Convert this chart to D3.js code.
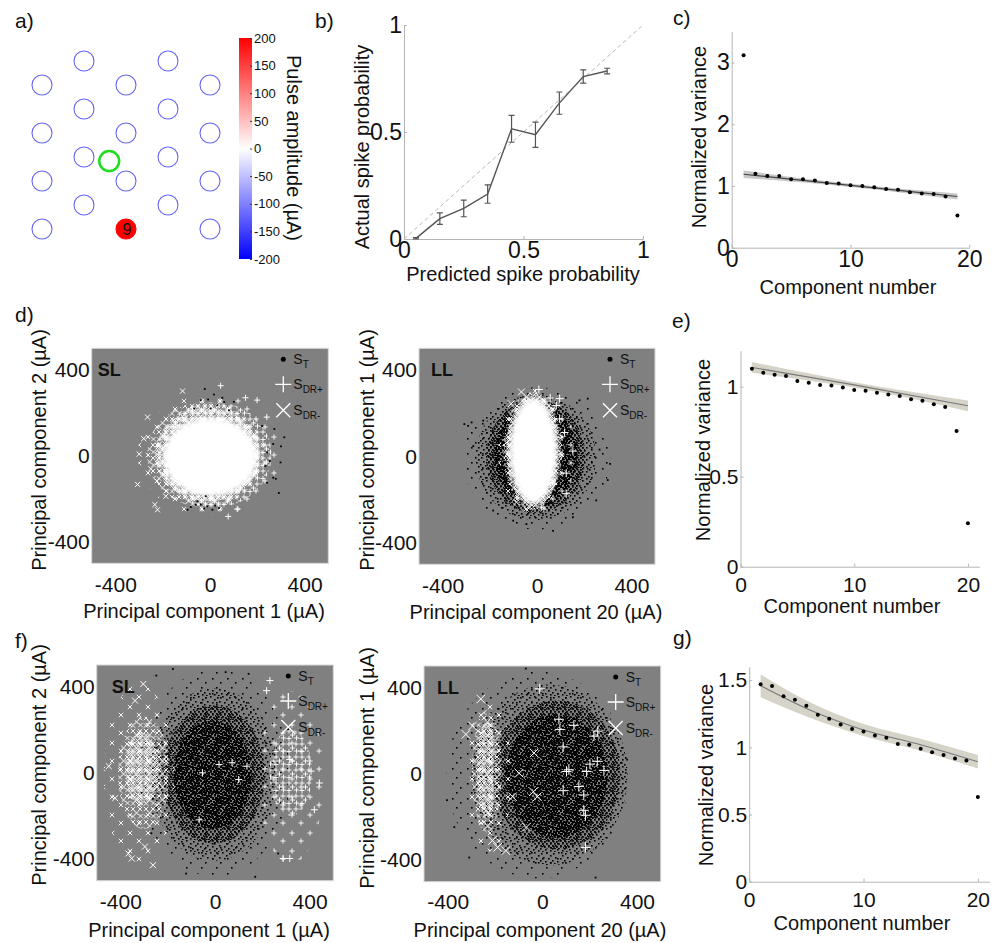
<!DOCTYPE html>
<meta charset="utf-8">
<style>
  body { margin: 0; background: #fff; }
  svg { font-family: Arial, "Liberation Sans", sans-serif; }
</style>
<body>
<script src="https://cdn.jsdelivr.net/npm/d3@7/dist/d3.min.js"></script>
<script>

// ---------- a) electrode array ----------
var electrodeCols = [1,3,0,2,4,1,3,0,2,4,1,3,0,2,4,1,3,0,2,4];
var electrodeRows = [0,0,1,1,1,2,2,3,3,3,4,4,5,5,5,6,6,7,7,7];
var stimIndex = 18, stimLabel = "9", stimAmp = 200;
var targetPos = [1.6, 4.17];
var cbTicks = [200,150,100,50,0,-50,-100,-150,-200];

// ---------- b) predicted vs actual ----------
var predX   = [0.05,0.15,0.25,0.35,0.45,0.55,0.65,0.75,0.85];
var actualY = [0.003,0.095,0.143,0.21,0.515,0.487,0.635,0.759,0.785];
var actualE = [0.003,0.027,0.039,0.043,0.063,0.059,0.052,0.031,0.013];

// ---------- c, e, g) normalized variance ----------
var compC = [1,2,3,4,5,6,7,8,9,10,11,12,13,14,15,16,17,18,19];
var varC  = [3.12,1.20,1.16,1.16,1.11,1.11,1.09,1.05,1.04,1.01,1.00,0.98,0.95,0.94,0.90,0.88,0.87,0.83,0.52];
var bandCx = [1,10,19], bandCm = [1.19,1.01,0.83], bandCh = [0.06,0.025,0.05];

var compE = [1,2,3,4,5,6,7,8,9,10,11,12,13,14,15,16,17,18,19,20];
var varE  = [1.10,1.078,1.067,1.059,1.031,1.022,1.009,1.007,0.996,0.981,0.978,0.967,0.957,0.948,0.93,0.922,0.902,0.887,0.754,0.241];
var bandEx = [1,10,20], bandEm = [1.107,1.01,0.894], bandEh = [0.03,0.015,0.03];

var compG = [1,2,3,4,5,6,7,8,9,10,11,12,13,14,15,16,17,18,19,20];
var varG  = [1.471,1.457,1.38,1.355,1.31,1.243,1.213,1.171,1.136,1.119,1.089,1.072,1.025,1.02,0.99,0.963,0.943,0.918,0.903,0.63];
var bandGx = [1,5,10,15,20], bandGm = [1.459,1.29,1.13,1.02,0.893], bandGh = [0.085,0.06,0.045,0.045,0.05];

// ---------- d, f) PCA scatter clouds: [cx, cy, rx, ry] in uA + relative density (white 4 = solid) ----------
var dSLBlack = [];
var dSLCrossBlobs = [[-35,5,270,275,1],[-20,5,245,245,2],[-10,5,222,218,3],[2,-5,198,182,4]];
var dSLPlusBlobs  = [[35,5,265,280,1],[20,5,240,245,2]];
var dSLDots = [[-22,311],[17,285],[52,270],[-39,259],[-67,220],[3,220],[31,235],[220,138],[272,125],[314,86],
  [300,44],[267,55],[241,16],[253,-24],[298,-31],[234,-47],[267,-102],[278,-107],[291,-173],[241,-125],
  [-53,-212],[-39,-227],[-11,-235],[10,-251],[-81,-238],[38,-243],[-18,-188],[-95,-251],[101,251],[80,212],
  [-60,-228],[-25,-245],[22,-232],[-8,262],[60,250]];
var dSLPlus  = [[199,259],[45,326],[196,-71],[77,-282],[115,-248],[150,270],[240,180]];
var dSLCross = [[-299,8],[-264,180],[-306,-133],[-222,-251],[-233,-227],[-116,301],[-187,-188],[-280,80],[-250,-60]];

var dLLBlack = [[0,-10,310,330,1],[-5,-5,255,290,2],[-5,0,210,262,3],[-5,5,175,240,4]];
var dLLCrossBlobs = [[-25,25,140,290,1],[-18,25,125,272,2],[-15,25,115,260,3],[-15,25,102,245,4]];
var dLLPlusBlobs  = [[40,10,120,272,1]];
var dLLDots = [[-308,149],[-292,141],[-228,165],[-270,47],[180,259],[215,267],[310,-35],[300,-110],
  [251,-204],[68,-345],[152,-282],[-186,-251],[-101,-298],[-45,-314],[-277,157],[265,31]];
var dLLPlus  = [[8,309],[56,270],[96,267],[82,235],[117,110],[152,24],[124,-78],[124,-173],[18,-235],[68,-125],[96,173]];
var dLLCross = [[-66,298],[-109,243],[-87,-212],[-31,-235],[-123,16],[-130,63]];

var fSLBlack = [[0,0,320,480,1],[-5,-8,270,400,2],[-5,-8,215,320,3],[-10,-10,165,250,4]];
var fSLCrossBlobs = [[-320,-10,150,420,1],[-300,0,110,260,2],[-310,20,70,170,3]];
var fSLPlusBlobs  = [[320,-20,140,400,1],[320,0,90,200,2]];
var fSLDots = [[-248,451],[-178,482],[45,467],[142,459],[170,-482],[-122,-467],[267,-374],[309,202],[-269,-280]];
var fSLPlus  = [[232,428],[218,381],[316,62],[441,-47],[420,-171],[316,-397],[288,-397],[406,8],[17,39],[72,47],
  [-53,0],[100,-31],[135,31],[-67,-218]];
var fSLCross = [[-303,412],[-338,335],[-366,-374],[-352,-397],[-262,-428],[-422,-117],[-449,31],[-296,-342]];

var fLLBlack = [[-20,-5,385,480,1],[30,-5,330,420,2],[60,-5,270,345,3],[60,-10,215,285,4]];
var fLLCrossBlobs = [[-225,0,95,360,1],[-235,10,62,285,2],[-235,20,42,220,3]];
var fLLPlusBlobs  = [];
var fLLDots = [[-403,-122],[-372,-247],[-309,-388],[-70,488],[358,66],[225,-481]];
var fLLPlus  = [[70,253],[74,206],[133,225],[88,125],[112,19],[102,11],[187,11],[260,16],[232,58],[88,-78],
  [154,-59],[175,-98],[175,-169],[182,-192],[182,-341],[218,175],[234,198],[-11,394],[201,45]];
var fLLCross = [[-35,97],[-38,-83],[-21,-106],[-67,-247],[-126,-106],[-98,3],[-323,183],[-295,222],
  [-211,-309],[-189,-341],[-154,-356],[-260,347]];

var svg = d3.select("body").append("svg").attr("width", 1003).attr("height", 943);
var defs = svg.append("defs");
var fmt = function(d){ return String(d); };

// textures for the dense point clouds
var bkTiles = {
  1: {size: 15, r: 1.6, pts: [[2,3],[10,7],[6,12]]},
  2: {size: 12, r: 1.6, pts: [[1,1],[6,0],[10,3],[3,5],[8,6],[0,8],[5,9],[10,10],[2,11]]},
  3: {size: 12, r: 1.8, pts: [[0,0],[4,1],[8,0],[2,3],[6,3],[10,2],[0,5],[4,6],[8,5],[11,7],[2,8],[6,8],[9,9],[0,10],[4,11],[7,11],[11,11],[1,6]]},
  4: {size: 10, r: 2, pts: [[0,0],[3,1],[6,0],[8,2],[1,3],[4,4],[7,5],[0,6],[2,7],[5,7],[8,8],[3,9],[6,9],[9,5],[5,2]]}
};
Object.keys(bkTiles).forEach(function(k){
  var t = bkTiles[k];
  defs.append("pattern").attr("id", "bk" + k).attr("patternUnits", "userSpaceOnUse")
    .attr("width", t.size).attr("height", t.size)
    .selectAll("rect").data(t.pts).join("rect")
    .attr("x", function(p){ return p[0]; }).attr("y", function(p){ return p[1]; })
    .attr("width", t.r).attr("height", t.r).attr("fill", "#000");
});
var wTiles = {
  1: {size: 18, pts: [[4,5],[13,13]]},
  2: {size: 13, pts: [[3,3],[10,3],[6.5,7],[3,10.5],[10.5,10]]},
  3: {size: 9, pts: [[2.5,2.5],[6.5,3],[4.5,6.5],[2,6.5],[7,6.5]]}
};
var plusPath = function(s){ return "M" + (-s) + ",0H" + s + "M0," + (-s) + "V" + s; };
var crossPath = function(s){ return "M" + (-s) + "," + (-s) + "L" + s + "," + s + "M" + (-s) + "," + s + "L" + s + "," + (-s); };
Object.keys(wTiles).forEach(function(k){
  var t = wTiles[k];
  [["wx", crossPath(2.2)], ["wp", plusPath(2.6)]].forEach(function(m){
    defs.append("pattern").attr("id", m[0] + k).attr("patternUnits", "userSpaceOnUse")
      .attr("width", t.size).attr("height", t.size)
      .selectAll("path").data(t.pts).join("path")
      .attr("transform", function(p){ return "translate(" + p[0] + "," + p[1] + ")"; })
      .attr("d", m[1]).attr("stroke", "#fff").attr("stroke-width", 0.9).attr("fill", "none");
  });
});
defs.append("filter").attr("id", "soft").attr("x", "-20%").attr("y", "-20%").attr("width", "140%").attr("height", "140%")
  .append("feGaussianBlur").attr("stdDeviation", 2.5);

// ---------- panel a ----------
var colX = d3.scaleLinear().domain([0,4]).range([42,210]);
var rowY = d3.scaleLinear().domain([0,7]).range([61,229]);
var ampColor = d3.scaleLinear().domain([-200,0,200]).range(["#0000ff","#ffffff","#ff0000"]);
var ga = svg.append("g");
ga.selectAll("circle.el").data(electrodeCols).join("circle")
  .attr("class", "el")
  .attr("cx", function(c){ return colX(c); })
  .attr("cy", function(c, i){ return rowY(electrodeRows[i]); })
  .attr("r", 10)
  .attr("fill", function(c, i){ return i === stimIndex ? ampColor(stimAmp) : "none"; })
  .attr("stroke", function(c, i){ return i === stimIndex ? ampColor(stimAmp) : "#6464f0"; })
  .attr("stroke-width", 1.1);
ga.append("text").attr("x", colX(electrodeCols[stimIndex]) + 1).attr("y", rowY(electrodeRows[stimIndex]) + 5.5)
  .attr("text-anchor", "middle").attr("font-size", 16).attr("fill", "#111").text(stimLabel);
ga.append("circle").attr("cx", colX(targetPos[0])).attr("cy", rowY(targetPos[1])).attr("r", 10)
  .attr("fill", "none").attr("stroke", "#1fdc1f").attr("stroke-width", 2.5);

var cbY = d3.scaleLinear().domain([-200,200]).range([259,38]);
var grad = defs.append("linearGradient").attr("id", "cbgrad").attr("x1", 0).attr("x2", 0).attr("y1", 1).attr("y2", 0);
grad.selectAll("stop").data([-200,0,200]).join("stop")
  .attr("offset", function(d){ return (d + 200) / 400; })
  .attr("stop-color", function(d){ return ampColor(d); });
ga.append("rect").attr("x", 239).attr("y", cbY(200)).attr("width", 13).attr("height", cbY(-200) - cbY(200))
  .attr("fill", "url(#cbgrad)");
var cbAxis = ga.append("g").attr("transform", "translate(252,0)")
  .call(d3.axisRight(cbY).tickValues(cbTicks).tickFormat(fmt).tickSize(-2).tickSizeOuter(0).tickPadding(2));
cbAxis.attr("font-size", 13).attr("font-family", null);
cbAxis.select(".domain").remove();
cbAxis.selectAll("line").attr("stroke", "#333");
cbAxis.selectAll("text").attr("fill", "#111");
ga.append("text").attr("transform", "translate(287,148) rotate(90)").attr("text-anchor", "middle")
  .attr("font-size", 20).attr("fill", "#111").text("Pulse amplitude (\u00b5A)");

// ---------- helpers ----------
function styleAxis(a, fs) {
  a.attr("font-size", fs).attr("font-family", null);
  a.select(".domain").attr("stroke", "#b4b4b4");
  a.selectAll(".tick line").attr("stroke", "#b4b4b4");
  a.selectAll("text").attr("fill", "#111");
}
function axisLabels(g, s) {
  g.append("text").attr("x", s.xlab[1]).attr("y", s.xlab[2]).attr("text-anchor", "middle")
    .attr("font-size", 20).attr("fill", "#111").text(s.xlab[0]);
  g.append("text").attr("transform", "translate(" + s.ylab[1] + "," + s.ylab[2] + ") rotate(-90)")
    .attr("text-anchor", "middle").attr("font-size", 20).attr("fill", "#111").text(s.ylab[0]);
}
function lineAxes(s) {
  var x = d3.scaleLinear().domain(s.xd).range(s.xr);
  var y = d3.scaleLinear().domain(s.yd).range(s.yr);
  var g = svg.append("g");
  var ax = g.append("g").attr("transform", "translate(0," + s.yr[0] + ")")
    .call(d3.axisBottom(x).tickValues(s.xt).tickFormat(fmt).tickSizeInner(-3).tickSizeOuter(0).tickPadding(s.xpad));
  var ay = g.append("g").attr("transform", "translate(" + s.xr[0] + ",0)")
    .call(d3.axisLeft(y).tickValues(s.yt).tickFormat(fmt).tickSizeInner(-3).tickSizeOuter(0).tickPadding(2));
  styleAxis(ax, s.fs); styleAxis(ay, s.fs);
  axisLabels(g, s);
  return {x: x, y: y, g: g};
}
function variancePanel(s, xs, vs, bx, bm, bh, bandFill, lineCol) {
  var p = lineAxes(s);
  var band = bx.map(function(v, i){ return {x: v, m: bm[i], h: bh[i]}; });
  p.g.append("path").datum(band)
    .attr("d", d3.area().curve(d3.curveMonotoneX).x(function(d){ return p.x(d.x); })
      .y0(function(d){ return p.y(d.m - d.h); }).y1(function(d){ return p.y(d.m + d.h); }))
    .attr("fill", bandFill);
  p.g.append("path").datum(band)
    .attr("d", d3.line().curve(d3.curveMonotoneX).x(function(d){ return p.x(d.x); }).y(function(d){ return p.y(d.m); }))
    .attr("fill", "none").attr("stroke", lineCol).attr("stroke-width", 1.1);
  p.g.selectAll("circle.pt").data(vs).join("circle").attr("class", "pt")
    .attr("cx", function(d, i){ return p.x(xs[i]); }).attr("cy", function(d){ return p.y(d); })
    .attr("r", 2).attr("fill", "#000");
}

// ---------- panel b ----------
var pb = lineAxes({xd: [0,1], yd: [0,1], xr: [404,643], yr: [239,25], xt: [0,0.5,1], yt: [0,0.5,1], fs: 23, xpad: 3,
  xlab: ["Predicted spike probability", 523, 281], ylab: ["Actual spike probability", 369, 147]});
pb.g.append("line").attr("x1", pb.x(0)).attr("y1", pb.y(0)).attr("x2", pb.x(1)).attr("y2", pb.y(1))
  .attr("stroke", "#b8b8b8").attr("stroke-dasharray", "4,3");
pb.g.append("path").datum(predX)
  .attr("d", d3.line().x(function(d){ return pb.x(d); }).y(function(d, i){ return pb.y(actualY[i]); }))
  .attr("fill", "none").attr("stroke", "#555").attr("stroke-width", 1.4);
pb.g.selectAll("path.eb").data(predX).join("path").attr("class", "eb")
  .attr("d", function(d, i){
    var x = pb.x(d), y0 = pb.y(actualY[i] - actualE[i]), y1 = pb.y(actualY[i] + actualE[i]);
    return "M" + x + "," + y0 + "V" + y1 + "M" + (x - 3) + "," + y0 + "H" + (x + 3) + "M" + (x - 3) + "," + y1 + "H" + (x + 3);
  }).attr("stroke", "#555").attr("stroke-width", 1.2).attr("fill", "none");

// ---------- panels c, e, g ----------
variancePanel({xd: [0,20], yd: [0,3.5], xr: [731.7,969.3], yr: [247.7,31.7], xt: [0,10,20], yt: [0,1,2,3], fs: 23, xpad: 3,
  xlab: ["Component number", 848, 294], ylab: ["Normalized variance", 706, 137]},
  compC, varC, bandCx, bandCm, bandCh, "#c9c9c9", "#444");
variancePanel({xd: [0,21], yd: [0,1.2], xr: [740.5,979.3], yr: [566.7,350.7], xt: [0,10,20], yt: [0,0.5,1], fs: 21, xpad: 10,
  xlab: ["Component number", 852, 613], ylab: ["Normalized variance", 710, 450]},
  compE, varE, bandEx, bandEm, bandEh, "#d6d3c9", "#777");
variancePanel({xd: [0,21], yd: [0,1.6], xr: [749.2,989.3], yr: [881.7,666.8], xt: [0,10,20], yt: [0,0.5,1,1.5], fs: 21, xpad: 10,
  xlab: ["Component number", 862, 930], ylab: ["Normalized variance", 713, 775]},
  compG, varG, bandGx, bandGm, bandGh, "#d6d3c9", "#777");

// ---------- scatter panels ----------
function scatterPanel(s) {
  var x = d3.scaleLinear().domain([-500,500]).range(s.xr);
  var y = d3.scaleLinear().domain([-500,500]).range(s.yr);
  var g = svg.append("g");
  var cid = "clip-" + s.id;
  defs.append("clipPath").attr("id", cid).append("rect")
    .attr("x", s.xr[0]).attr("y", s.yr[1]).attr("width", s.xr[1] - s.xr[0]).attr("height", s.yr[0] - s.yr[1]);
  g.append("rect").attr("x", s.xr[0]).attr("y", s.yr[1]).attr("width", s.xr[1] - s.xr[0]).attr("height", s.yr[0] - s.yr[1])
    .attr("fill", "#808080").attr("stroke", "#d8d8d8").attr("stroke-width", 1);
  var plot = g.append("g").attr("clip-path", "url(#" + cid + ")");
  function ell(b, fill) {
    return plot.append("ellipse").attr("cx", x(b[0])).attr("cy", y(b[1]))
      .attr("rx", x(b[0] + b[2]) - x(b[0])).attr("ry", y(b[1]) - y(b[1] + b[3])).attr("fill", fill);
  }
  s.black.forEach(function(b){ ell(b, "url(#bk" + b[4] + ")"); });
  var whites = s.crossBlobs.map(function(b){ return {b: b, k: "wx"}; })
    .concat(s.plusBlobs.map(function(b){ return {b: b, k: "wp"}; }));
  whites.sort(function(a, b){ return a.b[4] - b.b[4]; });
  whites.forEach(function(w){
    if (w.b[4] === 4) ell(w.b, "#fff").attr("filter", "url(#soft)");
    else ell(w.b, "url(#" + w.k + w.b[4] + ")");
  });
  plot.selectAll("rect.dot").data(s.dots).join("rect").attr("class", "dot")
    .attr("x", function(p){ return x(p[0]) - 0.9; }).attr("y", function(p){ return y(p[1]) - 0.9; })
    .attr("width", 1.8).attr("height", 1.8).attr("fill", "#000");
  [[s.plus, plusPath(s.ms)], [s.cross, crossPath(s.ms * 0.85)]].forEach(function(m){
    plot.append("g").selectAll("path").data(m[0]).join("path")
      .attr("transform", function(p){ return "translate(" + x(p[0]) + "," + y(p[1]) + ")"; })
      .attr("d", m[1]).attr("stroke", "#fff").attr("stroke-width", 1).attr("fill", "none");
  });
  var ax = g.append("g").attr("transform", "translate(0," + s.yr[0] + ")")
    .call(d3.axisBottom(x).tickValues([-400,0,400]).tickFormat(fmt).tickSize(0).tickPadding(s.xpad));
  var ay = g.append("g").attr("transform", "translate(" + s.xr[0] + ",0)")
    .call(d3.axisLeft(y).tickValues([-400,0,400]).tickFormat(fmt).tickSize(0).tickPadding(2));
  styleAxis(ax, 21); styleAxis(ay, 21);
  ax.select(".domain").remove(); ay.select(".domain").remove();
  axisLabels(g, s);
  g.append("text").attr("x", s.xr[0] + s.tagDx).attr("y", s.yr[1] + 28).attr("font-size", 18)
    .attr("font-weight", "bold").attr("fill", "#111").text(s.tag);
  // legend
  var lx = s.xr[1] - 45, tx = s.xr[1] - 35, rows = [11, 36, 62].map(function(v){ return s.yr[1] + v; });
  g.append("circle").attr("cx", lx).attr("cy", rows[0]).attr("r", 2.5).attr("fill", "#000");
  g.append("path").attr("transform", "translate(" + lx + "," + rows[1] + ")").attr("d", plusPath(8))
    .attr("stroke", "#fff").attr("stroke-width", 1.3);
  g.append("path").attr("transform", "translate(" + lx + "," + rows[2] + ")").attr("d", crossPath(7))
    .attr("stroke", "#fff").attr("stroke-width", 1.3);
  ["T", "DR+", "DR-"].forEach(function(sub, i){
    var t = g.append("text").attr("x", tx).attr("y", rows[i] + 5).attr("font-size", 14).attr("fill", "#111").text("S");
    t.append("tspan").attr("dy", 4).attr("font-size", 10).text(sub);
  });
}

scatterPanel({id: "dSL", xr: [91.7,328.3], yr: [563.3,348.3], xpad: 14, tag: "SL", tagDx: 6, ms: 3,
  black: dSLBlack, crossBlobs: dSLCrossBlobs, plusBlobs: dSLPlusBlobs, dots: dSLDots, plus: dSLPlus, cross: dSLCross,
  xlab: ["Principal component 1 (\u00b5A)", 204, 618], ylab: ["Principal component 2 (\u00b5A)", 46, 450]});
scatterPanel({id: "dLL", xr: [419,655], yr: [564.3,348.3], xpad: 14, tag: "LL", tagDx: 12, ms: 4,
  black: dLLBlack, crossBlobs: dLLCrossBlobs, plusBlobs: dLLPlusBlobs, dots: dLLDots, plus: dLLPlus, cross: dLLCross,
  xlab: ["Principal component 20 (\u00b5A)", 536, 619], ylab: ["Principal component 1 (\u00b5A)", 374, 450]});
scatterPanel({id: "fSL", xr: [96.7,333.3], yr: [880.7,665], xpad: 13, tag: "SL", tagDx: 15, ms: 3.5,
  black: fSLBlack, crossBlobs: fSLCrossBlobs, plusBlobs: fSLPlusBlobs, dots: fSLDots, plus: fSLPlus, cross: fSLCross,
  xlab: ["Principal component 1 (\u00b5A)", 209, 937], ylab: ["Principal component 2 (\u00b5A)", 46, 765]});
scatterPanel({id: "fLL", xr: [424,660.7], yr: [881.7,666], xpad: 12, tag: "LL", tagDx: 13, ms: 5,
  black: fLLBlack, crossBlobs: fLLCrossBlobs, plusBlobs: fLLPlusBlobs, dots: fLLDots, plus: fLLPlus, cross: fLLCross,
  xlab: ["Principal component 20 (\u00b5A)", 540, 937], ylab: ["Principal component 1 (\u00b5A)", 374, 768]});

// panel letters
var panelTags = [["a)",15,28],["b)",315,28],["c)",673,25],["d)",15,322],["e)",672,328],["f)",15,648],["g)",673,645]];
svg.selectAll("text.tag").data(panelTags).join("text").attr("class", "tag")
  .attr("x", function(d){ return d[1]; }).attr("y", function(d){ return d[2]; })
  .attr("font-size", 21).attr("fill", "#111").text(function(d){ return d[0]; });
</script>
